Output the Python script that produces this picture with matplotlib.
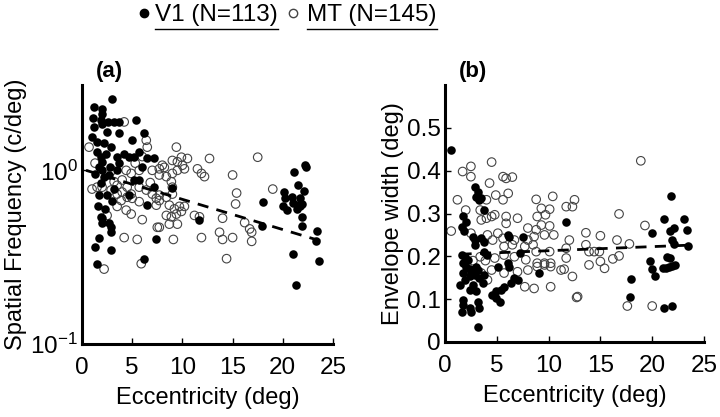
import matplotlib
matplotlib.use('Agg')
import matplotlib.pyplot as plt
from matplotlib.lines import Line2D
from matplotlib.ticker import FixedLocator, FuncFormatter, NullLocator

plt.rcParams['font.family'] = ['Liberation Sans', 'DejaVu Sans']

# Panel (a): spatial frequency vs eccentricity
v1_a_x = [3.0, 1.2, 2.0, 2.0, 1.9, 2.0, 3.2, 3.7, 5.4, 1.2, 2.5, 3.7, 6.2, 1.5, 2.2, 5.0,
          2.9, 1.5, 5.7, 1.9, 2.0, 4.7, 5.2, 3.5, 6.5, 7.2, 1.7, 2.0, 3.7, 3.5, 6.0, 2.2,
          2.7, 5.2, 5.7, 1.7, 2.5, 1.9, 4.7, 7.2, 9.0, 3.0, 6.5, 1.9, 2.0, 2.9, 11.7,
          1.7, 1.3, 2.9, 2.9, 1.5, 6.2, 7.4, 2.0, 2.7,
          1.0, 2.4, 1.3, 2.8, 1.6, 2.3, 3.2, 4.2, 1.1, 2.6,
          22.2, 22.3, 21.1, 21.5, 22.1, 20.1, 20.2, 20.9, 21.7, 21.0, 21.5, 21.9, 20.0,
          20.4, 21.4, 21.7, 18.0, 21.9, 17.9, 21.9, 23.4, 23.3, 21.0, 23.6, 21.3]
v1_a_y = [2.58, 2.33, 2.26, 2.1, 1.95, 1.85, 1.9, 1.9, 1.94, 1.77, 1.66, 1.63, 1.63, 1.45, 1.43, 1.49,
          1.36, 1.27, 1.27, 1.19, 1.12, 1.19, 1.19, 1.19, 1.17, 1.17, 1.04, 1.0, 1.1, 1.0, 1.04, 0.91,
          0.94, 0.88, 0.88, 0.72, 0.72, 0.84, 0.72, 0.80, 0.79, 0.67, 0.63, 0.54, 0.53, 0.47, 0.52,
          0.41, 0.36, 0.44, 0.35, 0.29, 0.31, 0.40, 0.50, 0.50,
          1.55, 1.25, 0.95, 1.05, 0.62, 0.60, 0.78, 1.25, 2.0, 1.9,
          1.08, 1.05, 0.98, 0.82, 0.76, 0.75, 0.69, 0.70, 0.69, 0.65, 0.63, 0.64, 0.62,
          0.59, 0.60, 0.62, 0.66, 0.54, 0.48, 0.48, 0.45, 0.39, 0.33, 0.30, 0.22]

mt_a_x = [4.2, 9.4, 6.4, 6.5, 0.7, 9.9, 10.5, 9.0, 9.5, 10.0, 8.0, 8.2, 7.7, 7.0, 4.4, 4.9,
          5.7, 7.7, 8.4, 9.0, 9.5, 10.2, 11.5, 11.9, 12.2, 1.0, 1.5, 2.0, 3.2, 3.5, 4.0, 4.5,
          2.9, 3.5, 4.0, 4.9, 5.7, 6.4, 7.0, 7.7, 8.4, 9.0, 8.9, 9.0, 3.9, 4.5, 5.0, 5.7,
          3.5, 4.4, 4.9, 7.4, 7.7, 7.4, 8.7, 9.2, 9.7, 10.2, 8.4, 8.9, 9.4, 9.9, 11.2, 7.7, 8.7,
          2.2, 5.9, 4.2, 5.5, 7.5, 9.5, 9.1, 11.9,
          12.7, 17.5, 15.0, 19.0, 15.4, 15.3, 11.7, 14.0, 16.2, 16.7, 16.9, 13.7, 14.0, 15.0,
          16.9, 14.4,
          1.3, 6.0, 5.3, 3.0, 6.8, 2.5, 6.0]
mt_a_y = [1.9, 1.36, 1.49, 1.36, 1.36, 1.19, 1.17, 1.14, 1.12, 1.07, 1.07, 1.04, 1.02, 1.0, 1.0, 0.96,
          1.0, 0.94, 0.92, 0.96, 1.0, 1.02, 1.02, 0.96, 0.92, 0.78, 0.80, 0.80, 0.86, 0.82, 0.88, 0.80,
          0.77, 0.73, 0.75, 0.73, 0.80, 0.77, 0.73, 0.72, 0.70, 0.73, 0.86, 0.80, 0.67, 0.70, 0.69, 0.66,
          0.62, 0.59, 0.56, 0.69, 0.67, 0.63, 0.63, 0.60, 0.62, 0.62, 0.55, 0.54, 0.56, 0.58, 0.55, 0.47, 0.49,
          0.27, 0.29, 0.41, 0.40, 0.47, 0.49, 0.40, 0.41,
          1.17, 1.19, 0.94, 0.78, 0.74, 0.64, 0.54, 0.53, 0.50, 0.46, 0.44, 0.44, 0.40, 0.41,
          0.39, 0.31,
          1.1, 1.2, 1.1, 1.0, 0.85, 0.55, 0.52]

fit_a_x = [0.4, 23.9]
fit_a_y = [1.0, 0.39]

# Panel (b): envelope width vs eccentricity
v1_b_x = [0.6, 2.9, 3.2, 3.0, 3.3, 3.5, 3.8, 1.7, 2.0, 1.6, 1.8, 2.7, 2.9, 3.5, 3.8, 2.9,
          6.1, 6.2, 7.5, 11.7, 7.2, 1.6, 1.9, 2.2, 1.7, 2.0, 3.8, 4.1, 5.1, 6.1, 3.0,
          2.4, 2.5, 1.7, 1.4, 1.9, 2.4, 2.9, 3.2, 3.3, 2.7, 2.4, 3.0, 3.7, 3.8,
          1.7, 1.7, 1.6, 2.4, 2.5, 3.2, 3.3, 3.2, 4.5, 4.9, 5.3, 5.4, 5.7, 4.9,
          6.4, 6.7, 7.0, 6.2, 9.1,
          21.8, 21.1, 23.1, 23.4, 20.0, 21.7, 22.1, 21.9, 22.1, 23.5, 19.8, 20.0, 20.3,
          21.0, 21.3, 21.6, 21.9, 22.2, 21.4, 21.7, 18.0, 17.9, 21.1, 21.9]
v1_b_y = [0.449, 0.363, 0.351, 0.339, 0.332, 0.336, 0.308, 0.293, 0.281, 0.269, 0.258, 0.246, 0.238, 0.242, 0.234, 0.227,
          0.250, 0.246, 0.246, 0.281, 0.207, 0.203, 0.199, 0.192, 0.184, 0.176, 0.211, 0.203, 0.176, 0.184, 0.175,
          0.170, 0.164, 0.161, 0.133, 0.145, 0.153, 0.157, 0.168, 0.149, 0.133, 0.121, 0.118, 0.137, 0.157,
          0.098, 0.086, 0.071, 0.079, 0.071, 0.094, 0.079, 0.036, 0.110, 0.102, 0.094, 0.121, 0.129, 0.118,
          0.137, 0.149, 0.145, 0.176, 0.161,
          0.342, 0.287, 0.287, 0.262, 0.254, 0.260, 0.266, 0.238, 0.229, 0.224, 0.190, 0.170, 0.153,
          0.172, 0.172, 0.176, 0.178, 0.180, 0.199, 0.196, 0.147, 0.104, 0.079, 0.085]

mt_b_x = [1.7, 2.5, 2.5, 4.5, 5.6, 5.9, 6.5, 4.3, 4.9, 6.1, 5.6, 1.2, 4.0, 8.8, 10.4, 11.7,
          12.3, 12.5, 2.0, 3.4, 9.3, 10.1, 8.9, 9.7, 3.5, 4.0, 4.5, 4.8, 5.9, 7.0, 5.9, 0.6,
          8.0, 8.8, 9.3, 10.1, 10.5, 12.0, 5.1, 5.6, 4.6, 4.1, 6.7, 8.0, 8.6, 9.6, 2.5, 5.7,
          6.5, 7.7, 8.5, 8.8, 10.1, 11.7, 3.4, 4.8, 5.7, 6.7, 7.8, 8.9, 9.6, 10.2, 11.7, 3.9,
          2.7, 11.5,
          3.5, 4.5, 4.1, 5.7, 7.0, 8.0, 8.9, 9.6, 10.2, 7.7, 8.6, 10.2, 11.2, 12.3, 12.8,
          18.9, 16.8, 19.3, 13.6, 15.0, 16.6, 17.8, 13.6, 13.9, 14.4, 14.9, 15.0, 15.4, 13.9,
          16.2, 16.8, 12.7, 17.6, 20.0]
mt_b_y = [0.398, 0.410, 0.386, 0.420, 0.386, 0.382, 0.385, 0.371, 0.343, 0.347, 0.332, 0.332, 0.332, 0.333, 0.340, 0.316,
          0.316, 0.332, 0.308, 0.308, 0.312, 0.310, 0.293, 0.297, 0.285, 0.289, 0.293, 0.297, 0.293, 0.289, 0.277, 0.259,
          0.266, 0.262, 0.273, 0.271, 0.250, 0.238, 0.254, 0.242, 0.238, 0.250, 0.238, 0.238, 0.246, 0.250, 0.254, 0.223,
          0.227, 0.223, 0.227, 0.211, 0.211, 0.219, 0.199, 0.196, 0.203, 0.199, 0.192, 0.184, 0.184, 0.184, 0.196, 0.190,
          0.190, 0.170,
          0.161, 0.168, 0.145, 0.161, 0.164, 0.168, 0.176, 0.180, 0.176, 0.129, 0.125, 0.129, 0.168, 0.153, 0.106,
          0.423, 0.299, 0.272, 0.255, 0.248, 0.238, 0.229, 0.227, 0.211, 0.211, 0.211, 0.188, 0.172, 0.180,
          0.194, 0.201, 0.104, 0.084, 0.084]

fit_b_x = [1.5, 23.5]
fit_b_y = [0.205, 0.226]

x_ticks = [0, 5, 10, 15, 20, 25]
b_y_ticks = [0, 0.1, 0.2, 0.3, 0.4, 0.5]

fig = plt.figure(figsize=(7.2, 4.17), dpi=100)
ax_a = fig.add_axes([82 / 720, 1 - 344 / 417, 251 / 720, 259 / 417])
ax_b = fig.add_axes([445 / 720, 1 - 342 / 417, 259 / 720, 257 / 417])


def style_axis(ax):
    for side in ['top', 'right']:
        ax.spines[side].set_visible(False)
    for side in ['left', 'bottom']:
        ax.spines[side].set_linewidth(2.2)
    ax.tick_params(direction='in', length=4, width=1, labelsize=17.5)
    ax.tick_params(axis='x', pad=9)
    ax.tick_params(axis='y', pad=3)
    ax.set_xlim(0, 25)
    ax.xaxis.set_major_locator(FixedLocator(x_ticks))
    ax.set_xlabel('Eccentricity (deg)', fontsize=17, labelpad=6)


def draw_points(ax, vx, vy, mx, my, fx, fy):
    ax.scatter(mx, my, s=38, facecolors='none', edgecolors='#444444', linewidths=0.8, zorder=2)
    ax.scatter(vx, vy, s=38, color='black', linewidths=0, zorder=3)
    ax.plot(fx, fy, color='black', lw=2, linestyle=(0, (4, 3)), zorder=4)


draw_points(ax_a, v1_a_x, v1_a_y, mt_a_x, mt_a_y, fit_a_x, fit_a_y)
style_axis(ax_a)
ax_a.set_yscale('log')
ax_a.set_ylim(0.1, 3.1)
ax_a.yaxis.set_major_locator(FixedLocator([0.1, 1.0]))
ax_a.yaxis.set_minor_locator(NullLocator())
ax_a.yaxis.set_major_formatter(FuncFormatter(
    lambda v, p: r'$\mathdefault{10^{0}}$' if v == 1 else r'$\mathdefault{10^{-1}}$'))
ax_a.set_ylabel('Spatial Frequency (c/deg)', fontsize=17, labelpad=2)

draw_points(ax_b, v1_b_x, v1_b_y, mt_b_x, mt_b_y, fit_b_x, fit_b_y)
style_axis(ax_b)
ax_b.set_ylim(0, 0.6)
ax_b.yaxis.set_major_locator(FixedLocator(b_y_ticks))
ax_b.yaxis.set_major_formatter(FuncFormatter(lambda v, p: '0' if v == 0 else f'{v:g}'))
ax_b.set_ylabel('Envelope width (deg)', fontsize=17, labelpad=2)

fig.text(96 / 720, 1 - 72 / 417, '(a)', fontsize=16, fontweight='bold', va='center')
fig.text(459 / 720, 1 - 72 / 417, '(b)', fontsize=16, fontweight='bold', va='center')

# Legend at the top, underlined labels
fig.add_artist(Line2D([144 / 720], [1 - 13 / 417], marker='o', markersize=6,
                      color='black', linestyle='none'))
fig.add_artist(Line2D([293 / 720], [1 - 13 / 417], marker='o', markersize=6,
                      markerfacecolor='none', markeredgecolor='#444444', linestyle='none'))
t1 = fig.text(155 / 720, 1 - 15 / 417, 'V1 (N=113)', fontsize=17.5, va='center')
t2 = fig.text(307 / 720, 1 - 15 / 417, 'MT (N=145)', fontsize=17.5, va='center')
fig.canvas.draw()
for t in (t1, t2):
    bb = t.get_window_extent().transformed(fig.transFigure.inverted())
    fig.add_artist(Line2D([bb.x0, bb.x1], [1 - 29 / 417] * 2, color='black', lw=1))

fig.savefig('out.png', dpi=100)
